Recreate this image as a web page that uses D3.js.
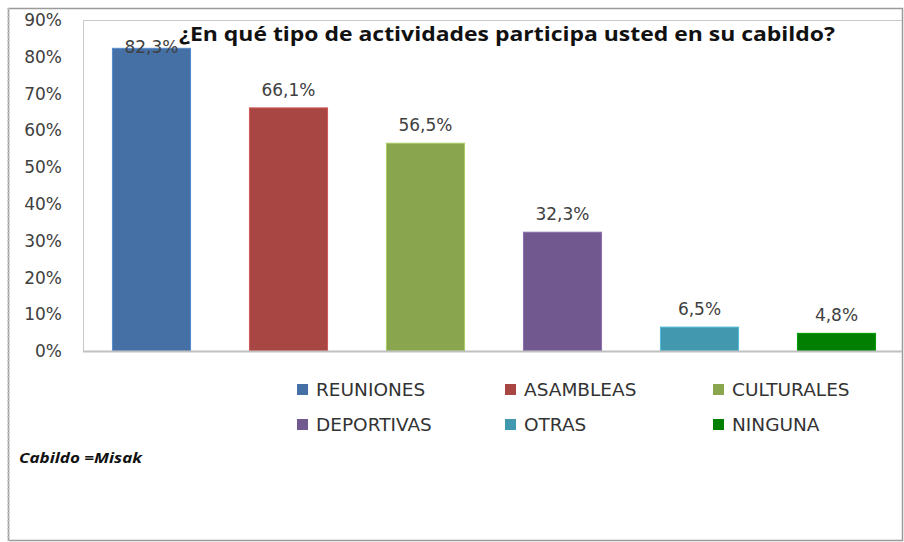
<!DOCTYPE html>
<html>
<head>
<meta charset="utf-8">
<script src="https://cdn.jsdelivr.net/npm/d3@7"></script>
<style>
  body { margin: 0; background: #fff; }
</style>
</head>
<body>
<div id="chart"></div>
<script>
var width = 904;
var height = 542;

// data
var categories = ["REUNIONES", "ASAMBLEAS", "CULTURALES", "DEPORTIVAS", "OTRAS", "NINGUNA"];
var values = [82.3, 66.1, 56.5, 32.3, 6.5, 4.8];
var colors = ["#4470a6", "#a84644", "#89a54e", "#71588f", "#4198af", "#007f00"];
var yTicks = [0, 10, 20, 30, 40, 50, 60, 70, 80, 90];

var plot = {left: 83, top: 20, right: 902, bottom: 351};

var fmt = v => d3.format(".1f")(v).replace(".", ",") + "%";

const svg = d3.select("#chart")
    .append("svg")
    .attr("width", width)
    .attr("height", height);

// outer frame
svg.append("rect")
    .attr("x", 8.5).attr("y", 8.5)
    .attr("width", 894).attr("height", 532)
    .attr("fill", "#fff")
    .attr("stroke", "#9a9a9a")
    .attr("stroke-width", 1.5);
svg.append("line")
    .attr("x1", 8.5).attr("x2", 8.5).attr("y1", 8).attr("y2", 541)
    .attr("stroke", "#bbb").attr("stroke-width", 2)
    .attr("stroke-dasharray", "2,2");

const x = d3.scaleBand()
    .domain(categories)
    .range([plot.left, plot.right + 3])
    .paddingInner(0.43)
    .paddingOuter(0.215);

const y = d3.scaleLinear()
    .domain([0, 90])
    .range([plot.bottom, plot.top]);

// plot area box
svg.append("path")
    .attr("d", `M${plot.left + 0.5},${plot.bottom} V${plot.top + 0.5} H${plot.right}`)
    .attr("fill", "none")
    .attr("stroke", "#c8c8c8")
    .attr("stroke-width", 1);

// bars
svg.append("g")
    .selectAll("rect")
    .data(values)
    .join("rect")
    .attr("x", (d, i) => x(categories[i]))
    .attr("y", d => y(d))
    .attr("width", x.bandwidth())
    .attr("height", d => y(0) - y(d))
    .attr("fill", (d, i) => colors[i])
    .attr("stroke", (d, i) => d3.color(colors[i]).brighter(0.6))
    .attr("stroke-width", 1);

// baseline
svg.append("line")
    .attr("x1", plot.left).attr("x2", plot.right)
    .attr("y1", plot.bottom + 0.5).attr("y2", plot.bottom + 0.5)
    .attr("stroke", "#c0c0c0")
    .attr("stroke-width", 2);

// y axis labels
svg.append("g")
    .selectAll("text")
    .data(yTicks)
    .join("text")
    .attr("x", 62)
    .attr("y", d => y(d))
    .attr("dy", "0.36em")
    .attr("text-anchor", "end")
    .attr("font-family", "'DejaVu Sans', sans-serif")
    .attr("font-size", 17)
    .attr("fill", "#404040")
    .text(d => d + "%");

// title
svg.append("text")
    .attr("x", 507)
    .attr("y", 41)
    .attr("text-anchor", "middle")
    .attr("font-family", "'Open Sans', sans-serif")
    .attr("font-weight", "bold")
    .attr("font-size", 20)
    .attr("textLength", 656)
    .attr("lengthAdjust", "spacingAndGlyphs")
    .attr("fill", "#111")
    .text("¿En qué tipo de actividades participa usted en su cabildo?");

// value labels (kept clear of the title)
svg.append("g")
    .selectAll("text")
    .data(values)
    .join("text")
    .attr("x", (d, i) => x(categories[i]) + x.bandwidth() / 2)
    .attr("y", d => Math.max(y(d) - 12, 53))
    .attr("text-anchor", "middle")
    .attr("font-family", "'DejaVu Sans', sans-serif")
    .attr("font-size", 17)
    .attr("fill", "#404040")
    .text(d => fmt(d));

// legend, 3 columns x 2 rows
var legend = svg.append("g")
    .selectAll("g")
    .data(categories)
    .join("g")
    .attr("transform", (d, i) => `translate(${297 + (i % 3) * 208},${396 + Math.floor(i / 3) * 35})`);

legend.append("rect")
    .attr("x", 0).attr("y", -12)
    .attr("width", 11).attr("height", 11)
    .attr("fill", (d, i) => colors[i]);

legend.append("text")
    .attr("x", 19)
    .attr("y", 0)
    .attr("font-family", "'DejaVu Sans', sans-serif")
    .attr("font-size", 18.5)
    .attr("fill", "#333")
    .text(d => d);

// note
svg.append("text")
    .attr("x", 19)
    .attr("y", 463)
    .attr("font-family", "'Open Sans', sans-serif")
    .attr("font-weight", "bold")
    .attr("font-style", "italic")
    .attr("font-size", 14)
    .attr("textLength", 123)
    .attr("lengthAdjust", "spacingAndGlyphs")
    .attr("fill", "#111")
    .text("Cabildo  =Misak");
</script>
</body>
</html>
